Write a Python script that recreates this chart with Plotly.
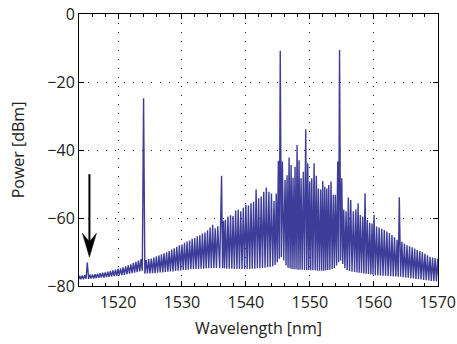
import plotly.graph_objects as go

# Comb line wavelengths [nm], peak powers [dBm] and floor (trough) powers [dBm]
line_nm = [
    1514.0, 1514.4, 1514.8, 1515.2, 1515.6, 1516.0, 1516.4, 1516.8, 1517.2, 1517.6,
    1518.0, 1518.4, 1518.8, 1519.2, 1519.6, 1520.0, 1520.4, 1520.8, 1521.2, 1521.6,
    1522.0, 1522.4, 1522.8, 1523.2, 1523.6, 1524.0, 1524.4, 1524.8, 1525.2, 1525.6,
    1526.0, 1526.4, 1526.8, 1527.2, 1527.6, 1528.0, 1528.4, 1528.8, 1529.2, 1529.6,
    1530.0, 1530.4, 1530.8, 1531.2, 1531.6, 1532.0, 1532.4, 1532.8, 1533.2, 1533.6,
    1534.0, 1534.4, 1534.8, 1535.2, 1535.6, 1536.2, 1536.5, 1536.8, 1537.2, 1537.6,
    1538.0, 1538.4, 1538.8, 1539.2, 1539.6, 1540.0, 1540.4, 1540.8, 1541.2, 1541.6,
    1542.0, 1542.4, 1542.8, 1543.2, 1543.6, 1544.0, 1544.4,
    1544.75, 1545.08, 1545.38, 1545.71, 1546.13, 1546.44, 1546.76, 1547.07, 1547.38, 1547.69,
    1548.01, 1548.32, 1548.63, 1548.99, 1549.36, 1549.68, 1549.99, 1550.30, 1550.67, 1551.02,
    1551.34, 1551.71, 1552.02, 1552.34, 1552.65, 1552.96, 1553.32, 1553.68, 1554.00, 1554.37,
    1554.65, 1555.00, 1555.31, 1555.67, 1556.03, 1556.40, 1556.81,
    1557.2, 1557.55, 1557.9, 1558.28, 1558.64, 1559.0, 1559.37, 1559.73, 1560.05, 1560.45,
    1560.85, 1561.25, 1561.65, 1562.05, 1562.45, 1562.85, 1563.25, 1563.65, 1564.0, 1564.4,
    1564.8, 1565.2, 1565.6, 1566.0, 1566.4, 1566.8, 1567.2, 1567.6, 1568.0, 1568.4,
    1568.8, 1569.2, 1569.6, 1570.0,
]
peak_dbm = [
    -77.0, -76.9, -76.8, -73.1, -76.7, -76.6, -76.5, -76.4, -76.2, -76.1,
    -76.0, -75.8, -75.6, -75.4, -75.2, -75.0, -74.8, -74.5, -74.2, -73.9,
    -73.6, -73.2, -72.9, -72.5, -72.1, -24.8, -72.4, -72.1, -71.9, -71.6,
    -71.3, -71.0, -70.7, -70.4, -70.1, -69.7, -69.3, -68.9, -68.5, -68.0,
    -67.8, -67.3, -66.9, -66.6, -66.1, -65.9, -65.4, -65.1, -64.6, -64.3,
    -63.6, -62.8, -62.0, -63.0, -62.4, -47.6, -60.8, -60.5, -59.6, -59.2,
    -59.4, -57.8, -57.6, -58.0, -57.0, -56.0, -56.3, -55.7, -55.2, -51.6,
    -54.2, -53.7, -52.3, -51.0, -52.3, -52.8, -55.0,
    -52.8, -43.2, -10.8, -43.4, -48.8, -47.4, -42.2, -44.4, -48.2, -44.9,
    -38.5, -43.0, -48.3, -46.4, -33.9, -43.9, -49.3, -48.3, -43.9, -47.6,
    -51.3, -51.6, -49.1, -50.8, -51.3, -50.3, -49.3, -53.2, -53.2, -43.4,
    -10.6, -48.3, -57.6, -58.0, -54.0, -54.7, -58.0,
    -57.5, -55.7, -59.1, -59.6, -52.7, -60.6, -61.4, -61.6, -59.1, -62.5,
    -62.8, -63.2, -63.5, -64.0, -64.5, -65.0, -65.7, -66.4, -53.9, -67.0,
    -67.5, -68.0, -68.3, -68.6, -69.0, -69.4, -69.7, -70.0, -70.5, -71.0,
    -71.4, -71.6, -71.8, -72.0,
]
floor_dbm = [
    -78.0, -78.0, -77.9, -77.9, -77.8, -77.8, -77.7, -77.6, -77.5, -77.5,
    -77.4, -77.3, -77.2, -77.1, -77.0, -76.9, -76.8, -76.7, -76.5, -76.4,
    -76.2, -76.1, -75.9, -75.7, -75.5, -76.4, -76.3, -76.3, -76.2, -76.2,
    -76.1, -76.0, -76.0, -75.9, -75.8, -75.7, -75.7, -75.6, -75.5, -75.4,
    -75.3, -75.3, -75.2, -75.1, -75.1, -75.0, -75.0, -74.9, -74.9, -74.8,
    -74.8, -74.7, -74.7, -74.7, -74.8, -74.8, -74.8, -74.9, -74.9, -74.9,
    -75.0, -75.0, -75.0, -75.0, -75.0, -75.0, -75.0, -74.9, -74.9, -74.8,
    -74.8, -74.7, -74.6, -74.5, -74.4, -74.2, -73.8,
    -73.0, -72.0, -71.5, -72.5, -74.0, -74.6, -74.8, -75.0, -75.1, -75.1,
    -75.2, -75.2, -75.2, -75.3, -75.3, -75.3, -75.4, -75.4, -75.4, -75.5,
    -75.5, -75.5, -75.5, -75.4, -75.3, -75.2, -75.0, -74.7, -74.0, -73.0,
    -72.5, -73.5, -74.8, -75.3, -75.6, -75.8, -75.9,
    -76.0, -76.1, -76.2, -76.3, -76.4, -76.5, -76.6, -76.7, -76.8, -76.9,
    -76.9, -77.0, -77.0, -77.1, -77.1, -77.2, -77.2, -77.3, -77.3, -77.4,
    -77.5, -77.6, -77.7, -77.8, -77.9, -78.0, -78.1, -78.2, -78.3, -78.4,
    -78.5, -78.6, -78.7, -78.8,
]

x_ticks = [1520, 1530, 1540, 1550, 1560, 1570]
y_ticks = [-80, -60, -40, -20, 0]
x_range = [1513.9, 1570.05]
y_range = [-80, 0]

# arrow marker (tip position, data units)
arrow_nm = 1515.53
arrow_top_dbm = -47.1
arrow_tip_dbm = -71.5

# build the spectrum trace: each line peak followed by the trough midway to the next line
xs, ys = [line_nm[0] - 0.1], [floor_dbm[0]]
n = len(line_nm)
for i in range(n):
    xs.append(line_nm[i]); ys.append(peak_dbm[i])
    nxt = line_nm[i + 1] if i + 1 < n else line_nm[i] + 0.4
    xs.append((line_nm[i] + nxt) / 2); ys.append(floor_dbm[i])

fig = go.Figure()
fig.add_trace(go.Scatter(x=xs, y=ys, mode="lines",
                         line=dict(color="#3d3d99", width=1.4),
                         hoverinfo="skip", showlegend=False))

font_family = "Open Sans, Liberation Sans, Arial, sans-serif"
axis_common = dict(
    showline=True, linecolor="black", linewidth=1, mirror="ticks",
    ticks="inside", ticklen=5, tickcolor="black", tickwidth=1,
    showgrid=True, gridcolor="#222222", gridwidth=1, griddash="1px,8px",
    zeroline=False, automargin=False, ticklabeloverflow="allow",
    tickfont=dict(size=16, color="#222222", family=font_family),
)

fig.update_xaxes(range=x_range, tickvals=x_ticks, ticktext=[str(v) for v in x_ticks],
                 ticklabelstandoff=2,
                 title=dict(text="Wavelength [nm]", font=dict(size=16, color="#222222", family=font_family), standoff=10),
                 minor=dict(dtick=2, tick0=1520, ticks="inside", ticklen=3, tickcolor="black", showgrid=False),
                 **axis_common)
fig.update_yaxes(range=y_range, tickvals=y_ticks,
                 title=dict(text="Power [dBm]", font=dict(size=16, color="#222222", family=font_family), standoff=18),
                 **axis_common)

# arrow: shaft + stealth head
head_half_w = 1.1
head_len = 7.0
notch = 4.5
fig.add_shape(type="line", xref="x", yref="y",
              x0=arrow_nm, x1=arrow_nm, y0=arrow_top_dbm, y1=arrow_tip_dbm + notch,
              line=dict(color="black", width=2))
fig.add_shape(type="path", xref="x", yref="y",
              path=(f"M {arrow_nm},{arrow_tip_dbm} "
                    f"L {arrow_nm - head_half_w},{arrow_tip_dbm + head_len} "
                    f"L {arrow_nm},{arrow_tip_dbm + notch} "
                    f"L {arrow_nm + head_half_w},{arrow_tip_dbm + head_len} Z"),
              fillcolor="black", line=dict(color="black", width=0.5))

fig.update_layout(
    width=457, height=344,
    margin=dict(l=79, r=19, t=14, b=58, autoexpand=False),
    paper_bgcolor="white", plot_bgcolor="white",
    font=dict(family=font_family, size=16, color="#222222"),
    hovermode=False,
)

# remove the default page margin so the figure fills the 457x344 window exactly
fig.write_html("out.html",
               config={"displayModeBar": False, "staticPlot": True},
               post_script="document.body.style.margin='0';document.body.style.overflow='hidden';")
